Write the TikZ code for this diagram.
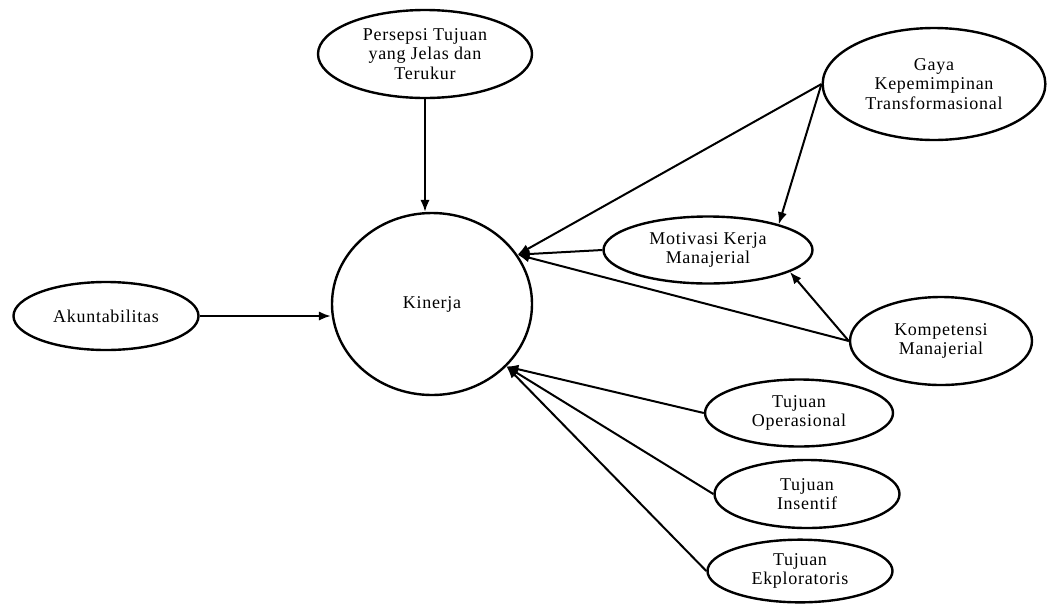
\documentclass[tikz,border=0pt]{standalone}
\usepackage{fontspec}
\setmainfont{Liberation Serif}[LetterSpace=4]
\usetikzlibrary{shapes.geometric}
\usetikzlibrary{arrows.meta}

\begin{document}
\begin{tikzpicture}[x=0.75pt,y=-0.75pt,
  var/.style={draw,black,line width=1.8pt,ellipse,inner sep=0pt,align=center,
    font=\fontsize{13.5}{14.5}\selectfont},
  link/.style={black,line width=1.5pt,-{Latex[length=9pt,width=7pt]}}]

\useasboundingbox (0,0) rectangle (1048,604);

\node[var,minimum width=150pt,minimum height=136.5pt] (kin) at (432,304) {Kinerja};
\node[var,minimum width=138.75pt,minimum height=51pt] (akun) at (106,316) {Akuntabilitas};
\node[var,minimum width=160.5pt,minimum height=66pt] (pers) at (425,54) {Persepsi Tujuan\\yang Jelas dan\\Terukur};
\node[var,minimum width=167pt,minimum height=84pt] (gaya) at (934,84) {Gaya\\Kepemimpinan\\Transformasional};
\node[var,minimum width=156.75pt,minimum height=50.25pt] (mot) at (708,250) {Motivasi Kerja\\Manajerial};
\node[var,minimum width=136.5pt,minimum height=66pt] (komp) at (941,341) {Kompetensi\\Manajerial};
\node[var,minimum width=141pt,minimum height=50.25pt] (oper) at (799,413) {Tujuan\\Operasional};
\node[var,minimum width=138.75pt,minimum height=51pt] (insen) at (807,494) {Tujuan\\Insentif};
\node[var,minimum width=138.75pt,minimum height=47pt] (eksp) at (800,571) {Tujuan\\Ekploratoris};

% panah ke kinerja
\draw[link] (akun.east) -- (akun.east -| kin.west);
\draw[link] (pers.south) -- (pers.south |- kin.north);
\draw[link] (gaya.west) -- (kin.30);
\draw[link] (mot.west) -- (kin.30);
\draw[link] (komp.west) -- (kin.30);
\draw[link] (oper.west) -- (kin.-40);
\draw[link] (insen.west) -- (kin.-40);
\draw[link] (eksp.west) -- (kin.-40);

% panah ke motivasi
\draw[link] (gaya.west) -- (mot.20);
\draw[link] (komp.west) -- (mot.-15);

\end{tikzpicture}
\end{document}
